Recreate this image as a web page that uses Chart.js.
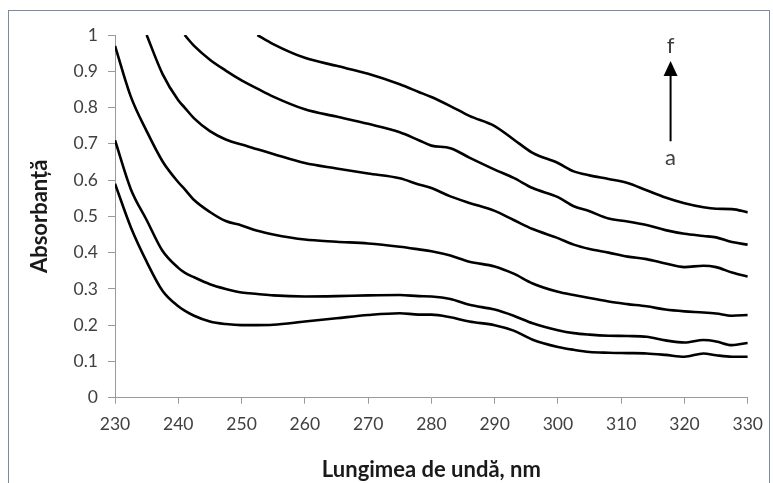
<!DOCTYPE html>
<html>
<head>
<meta charset="utf-8">
<script src="https://cdn.jsdelivr.net/npm/chart.js"></script>
<style>
  html, body { margin: 0; padding: 0; background: #fff; overflow: hidden; }
  #wrap { position: relative; width: 773px; height: 483px; }
  #frame { position: absolute; left: 8px; top: 10px; width: 762px; height: 500px; border: 1px solid #7a8aa3; box-sizing: border-box; }
  #chart { position: absolute; left: 0; top: 0; }
</style>
</head>
<body>
<div id="wrap">
  <div id="frame"></div>
  <canvas id="chart" width="773" height="483"></canvas>
</div>
<script>
// wavelength grid, nm
var wavelengths = [230, 232.5, 235, 237.5, 240, 241, 242.5, 245, 247.5, 250, 252.5, 255, 260, 265, 270, 275, 278, 280, 283, 286,
                   290, 293, 296, 300, 302.5, 305, 308, 311, 314, 317, 320, 323, 325, 327.5, 330];

// absorbance for curves a..f (null = above the frame)
var curveA = [0.59, 0.47, 0.375, 0.295, 0.252, 0.24, 0.226, 0.21, 0.203, 0.2, 0.2, 0.201, 0.21, 0.219, 0.228, 0.233, 0.229, 0.229, 0.222, 0.21,
              0.2, 0.185, 0.16, 0.14, 0.132, 0.126, 0.124, 0.123, 0.122, 0.118, 0.113, 0.122, 0.117, 0.113, 0.113];
var curveB = [0.71, 0.575, 0.49, 0.405, 0.358, 0.345, 0.332, 0.313, 0.3, 0.29, 0.286, 0.282, 0.279, 0.28, 0.282, 0.283, 0.28, 0.279, 0.272, 0.256,
              0.243, 0.226, 0.205, 0.186, 0.178, 0.174, 0.171, 0.17, 0.168, 0.158, 0.152, 0.159, 0.155, 0.145, 0.151];
var curveC = [0.97, 0.83, 0.735, 0.652, 0.594, 0.575, 0.545, 0.512, 0.487, 0.475, 0.46, 0.45, 0.436, 0.43, 0.425, 0.416, 0.409, 0.404, 0.392, 0.375,
              0.362, 0.342, 0.315, 0.292, 0.283, 0.275, 0.265, 0.258, 0.252, 0.243, 0.238, 0.235, 0.232, 0.226, 0.228];
var curveD = [null, null, 1.0, 0.893, 0.82, 0.8, 0.77, 0.735, 0.712, 0.698, 0.685, 0.672, 0.647, 0.632, 0.618, 0.605, 0.588, 0.578, 0.555, 0.537,
              0.515, 0.49, 0.465, 0.44, 0.422, 0.41, 0.4, 0.389, 0.382, 0.37, 0.36, 0.364, 0.36, 0.345, 0.334];
var curveE = [null, null, null, null, null, 1.0, 0.97, 0.932, 0.902, 0.875, 0.852, 0.83, 0.795, 0.775, 0.755, 0.732, 0.71, 0.695, 0.688, 0.662,
              0.629, 0.606, 0.578, 0.553, 0.528, 0.514, 0.494, 0.486, 0.476, 0.462, 0.452, 0.446, 0.442, 0.429, 0.422];
var curveF = [null, null, null, null, null, null, null, null, null, null, 1.0, 0.975, 0.937, 0.915, 0.893, 0.864, 0.843, 0.829, 0.804, 0.777,
              0.749, 0.712, 0.675, 0.647, 0.624, 0.613, 0.603, 0.592, 0.572, 0.552, 0.536, 0.525, 0.521, 0.52, 0.511];

var xTicks = [230, 240, 250, 260, 270, 280, 290, 300, 310, 320, 330];

function toPoints(values) {
    var pts = [];
    for (var i = 0; i < wavelengths.length; i++) {
        if (values[i] !== null) pts.push({ x: wavelengths[i], y: values[i] });
    }
    return pts;
}

function lineSet(label, values) {
    return {
        label: label,
        data: toPoints(values),
        borderColor: '#000',
        borderWidth: 2.6,
        pointRadius: 0,
        fill: false,
        cubicInterpolationMode: 'monotone'
    };
}

// arrow "a -> f" drawn in data coordinates
var arrowPlugin = {
    id: 'arrowNote',
    afterDatasetsDraw: function (chart) {
        var ctx = chart.ctx;
        var xs = chart.scales.x, ys = chart.scales.y;
        var x = xs.getPixelForValue(317.8);
        var yTip = ys.getPixelForValue(0.928);
        var yEnd = ys.getPixelForValue(0.707);
        ctx.save();
        ctx.strokeStyle = '#000';
        ctx.fillStyle = '#000';
        ctx.lineWidth = 2;
        ctx.beginPath();
        ctx.moveTo(x, yEnd);
        ctx.lineTo(x, yTip + 12);
        ctx.stroke();
        ctx.beginPath();
        ctx.moveTo(x, yTip);
        ctx.lineTo(x - 7, yTip + 15);
        ctx.lineTo(x + 7, yTip + 15);
        ctx.closePath();
        ctx.fill();
        ctx.fillStyle = '#404040';
        ctx.font = '22px Lato';
        ctx.textAlign = 'center';
        ctx.textBaseline = 'middle';
        ctx.fillText('f', x, ys.getPixelForValue(0.969));
        ctx.fillText('a', x, ys.getPixelForValue(0.662));
        ctx.restore();
    }
};

var ctx = document.getElementById('chart').getContext('2d');
new Chart(ctx, {
    type: 'line',
    data: {
        datasets: [
            lineSet('a', curveA),
            lineSet('b', curveB),
            lineSet('c', curveC),
            lineSet('d', curveD),
            lineSet('e', curveE),
            lineSet('f', curveF)
        ]
    },
    options: {
        responsive: false,
        animation: false,
        layout: { padding: { top: 35, right: 25, bottom: 0, left: 0 } },
        plugins: { legend: { display: false }, tooltip: { enabled: false } },
        scales: {
            x: {
                type: 'linear',
                min: 230,
                max: 330,
                afterBuildTicks: function (scale) {
                    scale.ticks = xTicks.map(function (v) { return { value: v }; });
                },
                afterFit: function (scale) { scale.height = 85.3; },
                grid: { drawOnChartArea: false, tickLength: 6, color: '#9a9a9a' },
                border: { color: '#9a9a9a', width: 1 },
                ticks: { color: '#404040', padding: 10, font: { family: 'Lato', size: 17.5 }, maxRotation: 0 },
                title: {
                    display: true,
                    text: 'Lungimea de undă, nm',
                    color: '#1a1a1a',
                    font: { family: 'Lato', size: 22, weight: 'bold' },
                    padding: { top: 0, bottom: 0 }
                }
            },
            y: {
                min: 0,
                max: 1,
                afterFit: function (scale) { scale.width = 115; },
                grid: { drawOnChartArea: false, tickLength: 7, color: '#9a9a9a' },
                border: { color: '#9a9a9a', width: 1 },
                ticks: {
                    stepSize: 0.1,
                    color: '#404040',
                    padding: 10,
                    font: { family: 'Lato', size: 17.5 },
                    callback: function (v) { return String(Number(v.toFixed(1))); }
                },
                title: {
                    display: true,
                    text: 'Absorbanță',
                    color: '#1a1a1a',
                    font: { family: 'Lato', size: 22, weight: 'bold' },
                    padding: { top: 27, bottom: 0 }
                }
            }
        }
    },
    plugins: [arrowPlugin]
});
</script>
</body>
</html>
